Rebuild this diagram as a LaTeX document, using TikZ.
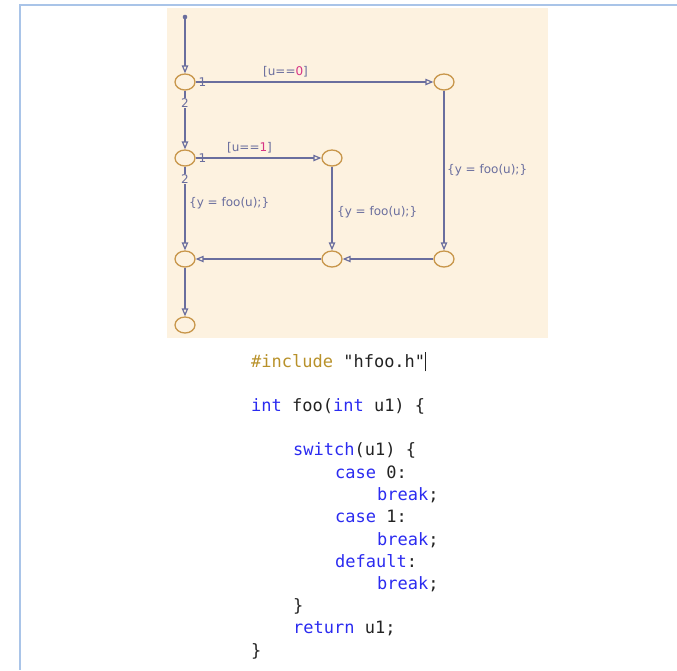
\documentclass[tikz,border=0pt]{standalone}
\usepackage{fontspec}
\setmainfont{DejaVu Sans}
\setmonofont{DejaVu Sans Mono}
\usetikzlibrary{arrows.meta,shapes.geometric}

\definecolor{panelbg}{HTML}{FDF2E0}
\definecolor{wire}{HTML}{6A6E9E}
\definecolor{juncline}{HTML}{C8964A}
\definecolor{guard}{HTML}{D63384}
\definecolor{frameblue}{HTML}{A9C4E8}
\definecolor{kw}{HTML}{2B2BF0}
\definecolor{pre}{HTML}{B8912A}
\definecolor{txt}{HTML}{222222}

\tikzset{
  junc/.style={ellipse,draw=juncline,line width=1.3pt,minimum width=20pt,minimum height=16pt,inner sep=0pt},
  trans/.style={draw=wire,line width=1.2pt,-{Triangle[open,length=8pt,width=6.5pt]}},
  lbl/.style={text=wire,font=\fontsize{12}{14}\selectfont,inner sep=1pt},
  codeline/.style={anchor=base west,inner sep=0pt,text=txt,font=\ttfamily\fontsize{17}{20}\selectfont}
}

\begin{document}
\begin{tikzpicture}[x=1pt,y=-1pt]
\useasboundingbox (0,0) rectangle (677,670);
\draw[frameblue,line width=2pt] (20,670) -- (20,5) -- (677,5);
\fill[panelbg] (167,8) rectangle (548,338);

% chart
\coordinate (start) at (185,17);
\fill[wire] (start) circle (2.3pt);
\node[junc] (j1) at (185,82) {};
\node[junc] (j2) at (444,82) {};
\node[junc] (j3) at (185,158) {};
\node[junc] (j4) at (332,158) {};
\node[junc] (j5) at (185,259) {};
\node[junc] (j6) at (332,259) {};
\node[junc] (j7) at (444,259) {};
\node[junc] (j8) at (185,325) {};

\draw[trans] (start) -- (j1);
\draw[trans] (j1) -- (j2);
\draw[trans] (j1) -- (j3);
\draw[trans] (j3) -- (j4);
\draw[trans] (j3) -- (j5);
\draw[trans] (j4) -- (j6);
\draw[trans] (j2) -- (j7);
\draw[trans] (j7) -- (j6);
\draw[trans] (j6) -- (j5);
\draw[trans] (j5) -- (j8);

\node[lbl] (o1a) at (202.5,82) {1};
\node[lbl,fill=panelbg] (o2a) at (185,103) {2};
\node[lbl] (o1b) at (202.5,158) {1};
\node[lbl,fill=panelbg] (o2b) at (185,179) {2};

\node[lbl,anchor=west] (g0) at (262,72) {[u==\textcolor{guard}{0}]};
\node[lbl,anchor=west] (g1) at (226,148) {[u==\textcolor{guard}{1}]};
\node[lbl,anchor=west] (a1) at (188,203) {\{y = foo(u);\}};
\node[lbl,anchor=west] (a2) at (336,212) {\{y = foo(u);\}};
\node[lbl,anchor=west] (a3) at (446,170) {\{y = foo(u);\}};

% code
\node[codeline] (c1) at (251,367) {\textcolor{pre}{\#include} "hfoo.h"\rule[-0.25em]{0.8pt}{1.15em}};
\node[codeline] (c2) at (251,411) {\textcolor{kw}{int} foo(\textcolor{kw}{int} u1) \{};
\node[codeline] (c3) at (293,455) {\textcolor{kw}{switch}(u1) \{};
\node[codeline] (c4) at (335,478) {\textcolor{kw}{case} 0:};
\node[codeline] (c5) at (377,500) {\textcolor{kw}{break};};
\node[codeline] (c6) at (335,522) {\textcolor{kw}{case} 1:};
\node[codeline] (c7) at (377,545) {\textcolor{kw}{break};};
\node[codeline] (c8) at (335,567) {\textcolor{kw}{default}:};
\node[codeline] (c9) at (377,589) {\textcolor{kw}{break};};
\node[codeline] (c10) at (293,611) {\}};
\node[codeline] (c11) at (293,633) {\textcolor{kw}{return} u1;};
\node[codeline] (c12) at (251,656) {\}};
\end{tikzpicture}
\end{document}
